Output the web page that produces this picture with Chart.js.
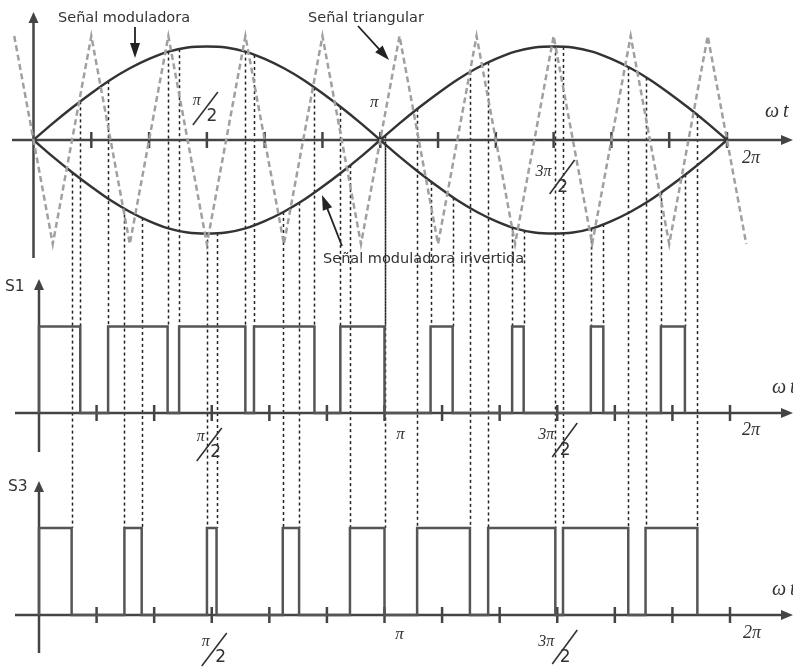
<!DOCTYPE html>
<html>
<head>
<meta charset="utf-8">
<script src="https://cdn.jsdelivr.net/npm/chart.js@4/dist/chart.umd.min.js"></script>
<style>
  html, body { margin: 0; padding: 0; background: #fff; overflow: hidden; }
  canvas { display: block; }
</style>
</head>
<body>
<canvas id="pwm" width="793" height="668"></canvas>
<script>
// Modulating signal, sampled every 10 degrees over one period
const modAngles = [0,10,20,30,40,50,60,70,80,90,100,110,120,130,140,150,160,170,180,
                   190,200,210,220,230,240,250,260,270,280,290,300,310,320,330,340,350,360];
const modulating = [0,0.16,0.31,0.45,0.58,0.69,0.78,0.85,0.89,0.90,0.89,0.85,0.78,0.69,0.58,0.45,0.31,0.16,0,
                    -0.16,-0.31,-0.45,-0.58,-0.69,-0.78,-0.85,-0.89,-0.90,-0.89,-0.85,-0.78,-0.69,-0.58,-0.45,-0.31,-0.16,0];
// Inverted modulating signal
const modulatingInv = [0,-0.16,-0.31,-0.45,-0.58,-0.69,-0.78,-0.85,-0.89,-0.90,-0.89,-0.85,-0.78,-0.69,-0.58,-0.45,-0.31,-0.16,0,
                       0.16,0.31,0.45,0.58,0.69,0.78,0.85,0.89,0.90,0.89,0.85,0.78,0.69,0.58,0.45,0.31,0.16,0];
// Triangular carrier: vertex angles (degrees) and levels
const triAngles = [-10,10,30,50,70,90,110,130,150,170,190,210,230,250,270,290,310,330,350,370];
const triLevels = [1,-1,1,-1,1,-1,1,-1,1,-1,1,-1,1,-1,1,-1,1,-1,1,-1];
// Gate signals: [switch-on, switch-off] angles in degrees
const s1Pulses = [[0,21.5],[36,67],[73,107.5],[112,143.5],[157,180],[204,215.5],[246.5,252.5],[287.5,294],[324,336.5]];
const s3Pulses = [[0,17],[44.5,53.5],[87.5,92.5],[127,135.5],[162,180],[197,224.5],[234,269],[273,307],[316,343]];
// Axis ticks and labelled angles
const tickAngles = [30,60,90,120,150,180,210,240,270,300,330,360];
const labelAngles = [90,180,270,360];
const labelTexts = ['π/2','π','3π/2','2π'];

const W = 793, H = 668;
function xRange(px0, px360) { const k = (px360 - px0) / 360; return { min: -px0 / k, max: (W - px0) / k }; }
function yRange(px0, px1) { const k = px0 - px1; return { min: -(H - px0) / k, max: px0 / k }; }
const hidden = { type: 'linear', display: false, bounds: 'data', grace: 0 };

const pts = (xs, ys) => xs.map((x, i) => ({ x, y: ys[i] }));
function pulseTrain(pulses) {
  const out = [];
  pulses.forEach(([a, b]) => { out.push({ x: a, y: 0 }, { x: a, y: 1 }, { x: b, y: 1 }, { x: b, y: 0 }); });
  return out;
}
function interp(xs, ys, x) {
  for (let i = 1; i < xs.length; i++) {
    if (x <= xs[i] || i === xs.length - 1) {
      const t = (x - xs[i - 1]) / (xs[i] - xs[i - 1]);
      return ys[i - 1] + t * (ys[i] - ys[i - 1]);
    }
  }
}

const TEXT = '#333';
const AXIS = '#444';

// Per-panel axis geometry and label offsets (relative to tick / axis)
const panels = [
  { x: 'xt', y: 'yt', hFrom: 12, vTop: 12, vBottom: 258, name: null,
    half: [-10, -39], pi: [-6, -37], threeHalf: [-10, 32], twoPi: [24, 18], wt: [765, -28] },
  { x: 'xs', y: 'y1', hFrom: 15, vTop: 279, vBottom: 452, name: 'S1', nameX: 5, nameY: 291,
    half: [-11, 24], pi: [16, 22], threeHalf: [-11, 22], twoPi: [21, 17], wt: [772, -25] },
  { x: 'xs', y: 'y3', hFrom: 15, vTop: 481, vBottom: 653, name: 'S3', nameX: 8, nameY: 491,
    half: [-6, 27], pi: [15, 20], threeHalf: [-11, 27], twoPi: [22, 18], wt: [772, -25] }
];

function arrowHead(ctx, x1, y1, x2, y2, len, half) {
  const a = Math.atan2(y2 - y1, x2 - x1);
  ctx.beginPath();
  ctx.moveTo(x2, y2);
  ctx.lineTo(x2 - len * Math.cos(a) + half * Math.sin(a), y2 - len * Math.sin(a) - half * Math.cos(a));
  ctx.lineTo(x2 - len * Math.cos(a) - half * Math.sin(a), y2 - len * Math.sin(a) + half * Math.cos(a));
  ctx.closePath();
  ctx.fill();
}
function arrowLine(ctx, x1, y1, x2, y2, len, half) {
  const a = Math.atan2(y2 - y1, x2 - x1);
  ctx.beginPath();
  ctx.moveTo(x1, y1);
  ctx.lineTo(x2 - len * 0.8 * Math.cos(a), y2 - len * 0.8 * Math.sin(a));
  ctx.stroke();
  arrowHead(ctx, x1, y1, x2, y2, len, half);
}

// Fraction-style label: numerator, slanted bar, denominator "2"
function fracLabel(ctx, num, cx, cy) {
  const wide = num.length > 1;
  ctx.textAlign = 'center';
  ctx.textBaseline = 'middle';
  ctx.font = 'italic 16px "Liberation Serif"';
  ctx.fillText(num, cx, cy);
  ctx.font = '17px "DejaVu Sans"';
  ctx.fillText('2', cx + (wide ? 19 : 15), cy + 16);
  ctx.lineWidth = 1.6;
  ctx.beginPath();
  ctx.moveTo(cx + (wide ? 6 : -4), cy + (wide ? 22 : 24));
  ctx.lineTo(cx + (wide ? 31 : 21), cy + (wide ? -12 : -9));
  ctx.stroke();
}

const diagram = {
  id: 'diagram',
  beforeDatasetsDraw(chart) {
    const { ctx, scales } = chart;
    const xt = scales.xt, xs = scales.xs, yt = scales.yt;
    ctx.save();

    // Dashed projection lines from the crossings down to the gate edges
    ctx.strokeStyle = '#222';
    ctx.lineWidth = 1.5;
    ctx.setLineDash([3, 3]);
    const guides = (pulses, curve, yEnd) => {
      pulses.flat().forEach(a => {
        if (a <= 0) return;
        const px = Math.round(xs.getPixelForValue(a)) + 0.5;
        const v = interp(modAngles, curve, xt.getValueForPixel(px));
        ctx.beginPath();
        ctx.moveTo(px, yt.getPixelForValue(v));
        ctx.lineTo(px, yEnd);
        ctx.stroke();
      });
    };
    guides(s1Pulses, modulating, scales.y1.getPixelForValue(1));
    guides(s3Pulses, modulatingInv, scales.y3.getPixelForValue(1));
    ctx.setLineDash([]);

    // Axes with arrows and ticks
    ctx.strokeStyle = AXIS;
    ctx.fillStyle = AXIS;
    panels.forEach(p => {
      const sx = scales[p.x], sy = scales[p.y];
      const y0 = sy.getPixelForValue(0);
      const x0 = sx.getPixelForValue(0);
      ctx.lineWidth = 2.5;
      ctx.beginPath(); ctx.moveTo(p.hFrom, y0); ctx.lineTo(782, y0); ctx.stroke();
      arrowHead(ctx, 700, y0, 793, y0, 12, 5);
      ctx.beginPath(); ctx.moveTo(x0, p.vBottom); ctx.lineTo(x0, p.vTop + 10); ctx.stroke();
      arrowHead(ctx, x0, p.vBottom, x0, p.vTop, 11, 5);
      tickAngles.forEach(t => {
        const tx = sx.getPixelForValue(t);
        ctx.beginPath(); ctx.moveTo(tx, y0 - 8); ctx.lineTo(tx, y0 + 8); ctx.stroke();
      });
    });
    ctx.restore();
  },
  afterDatasetsDraw(chart) {
    const { ctx, scales } = chart;
    ctx.save();
    ctx.fillStyle = TEXT;
    ctx.strokeStyle = TEXT;

    panels.forEach(p => {
      const sx = scales[p.x], sy = scales[p.y];
      const y0 = sy.getPixelForValue(0);
      labelAngles.forEach((ang, i) => {
        const tx = sx.getPixelForValue(ang);
        const txt = labelTexts[i];
        if (txt.includes('/')) {
          const off = txt.startsWith('3') ? p.threeHalf : p.half;
          fracLabel(ctx, txt.split('/')[0], tx + off[0], y0 + off[1]);
        } else {
          const off = txt === 'π' ? p.pi : p.twoPi;
          ctx.textAlign = 'center';
          ctx.textBaseline = 'middle';
          ctx.font = (txt === 'π' ? 'italic 17px' : 'italic 18px') + ' "Liberation Serif"';
          ctx.fillText(txt, tx + off[0], y0 + off[1]);
        }
      });
      ctx.textAlign = 'left';
      ctx.textBaseline = 'middle';
      ctx.font = 'italic 20px "Liberation Serif"';
      ctx.fillText('ω', p.wt[0], y0 + p.wt[1]);
      ctx.fillText('t', p.wt[0] + 18, y0 + p.wt[1]);
      if (p.name) {
        ctx.textBaseline = 'alphabetic';
        ctx.font = '15.5px "DejaVu Sans"';
        ctx.fillText(p.name, p.nameX, p.nameY);
      }
    });

    // Signal annotations
    ctx.textAlign = 'left';
    ctx.textBaseline = 'alphabetic';
    ctx.font = '14.5px "DejaVu Sans"';
    ctx.fillText('Señal moduladora', 58, 22);
    ctx.fillText('Señal triangular', 308, 22);
    ctx.fillText('Señal moduladora invertida', 323, 263);
    ctx.lineWidth = 1.8;
    ctx.fillStyle = '#222';
    ctx.strokeStyle = '#222';
    arrowLine(ctx, 135, 27, 135, 58, 15, 5);
    arrowLine(ctx, 358, 26, 389, 60, 15, 5);
    arrowLine(ctx, 342, 246, 322, 195, 15, 5);
    ctx.restore();
  }
};

new Chart(document.getElementById('pwm'), {
  type: 'line',
  data: {
    datasets: [
      { label: 'Señal triangular', data: pts(triAngles, triLevels), xAxisID: 'xt', yAxisID: 'yt',
        borderColor: '#a0a0a0', borderWidth: 2.5, borderDash: [6, 3.5], pointRadius: 0, tension: 0 },
      { label: 'Señal moduladora', data: pts(modAngles, modulating), xAxisID: 'xt', yAxisID: 'yt',
        borderColor: '#333', borderWidth: 2.5, pointRadius: 0, cubicInterpolationMode: 'monotone' },
      { label: 'Señal moduladora invertida', data: pts(modAngles, modulatingInv), xAxisID: 'xt', yAxisID: 'yt',
        borderColor: '#333', borderWidth: 2.5, pointRadius: 0, cubicInterpolationMode: 'monotone' },
      { label: 'S1', data: pulseTrain(s1Pulses), xAxisID: 'xs', yAxisID: 'y1',
        borderColor: '#555', borderWidth: 2.5, pointRadius: 0, tension: 0, borderJoinStyle: 'miter' },
      { label: 'S3', data: pulseTrain(s3Pulses), xAxisID: 'xs', yAxisID: 'y3',
        borderColor: '#555', borderWidth: 2.5, pointRadius: 0, tension: 0, borderJoinStyle: 'miter' }
    ]
  },
  options: {
    responsive: false,
    animation: false,
    devicePixelRatio: 1,
    events: [],
    layout: { padding: 0 },
    plugins: { legend: { display: false }, tooltip: { enabled: false } },
    scales: {
      xt: { ...hidden, axis: 'x', ...xRange(33.5, 727) },
      xs: { ...hidden, axis: 'x', ...xRange(39, 730) },
      yt: { ...hidden, axis: 'y', ...yRange(140, 36) },
      y1: { ...hidden, axis: 'y', ...yRange(413, 326.5) },
      y3: { ...hidden, axis: 'y', ...yRange(615, 528) }
    }
  },
  plugins: [diagram]
});
</script>
</body>
</html>
